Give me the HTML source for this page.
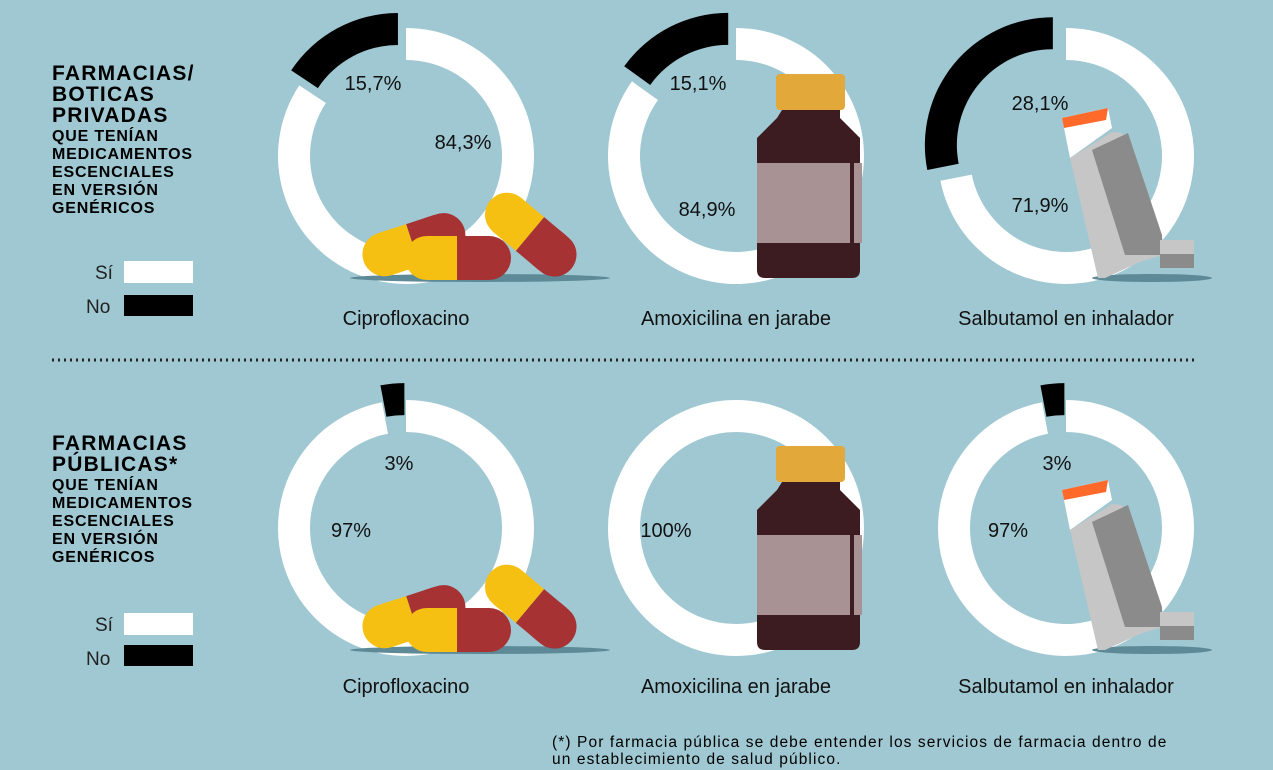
<!DOCTYPE html>
<html><head><meta charset="utf-8"><style>
body{margin:0;width:1273px;height:770px;background:#9fc8d2;overflow:hidden;font-family:"Liberation Sans",sans-serif;}
svg{position:absolute;left:0;top:0}
</style></head><body>
<svg id="chart" width="1273" height="770">
 <g font-weight="bold" fill="#000">
  <text x="52" y="80" font-size="21" letter-spacing="1.2">FARMACIAS/</text>
  <text x="52" y="101" font-size="21" letter-spacing="1.2">BOTICAS</text>
  <text x="52" y="122" font-size="21" letter-spacing="1.2">PRIVADAS</text>
  <text x="52" y="141" font-size="16" letter-spacing="0.8">QUE TENÍAN</text>
  <text x="52" y="159" font-size="16" letter-spacing="0.8">MEDICAMENTOS</text>
  <text x="52" y="177" font-size="16" letter-spacing="0.8">ESCENCIALES</text>
  <text x="52" y="195" font-size="16" letter-spacing="0.8">EN VERSIÓN</text>
  <text x="52" y="213" font-size="16" letter-spacing="0.8">GENÉRICOS</text>
 </g>
 <g font-weight="bold" fill="#000">
  <text x="52" y="450" font-size="21" letter-spacing="1.2">FARMACIAS</text>
  <text x="52" y="471" font-size="21" letter-spacing="1.2">PÚBLICAS*</text>
  <text x="52" y="490" font-size="16" letter-spacing="0.8">QUE TENÍAN</text>
  <text x="52" y="508" font-size="16" letter-spacing="0.8">MEDICAMENTOS</text>
  <text x="52" y="526" font-size="16" letter-spacing="0.8">ESCENCIALES</text>
  <text x="52" y="544" font-size="16" letter-spacing="0.8">EN VERSIÓN</text>
  <text x="52" y="562" font-size="16" letter-spacing="0.8">GENÉRICOS</text>
 </g>
 <g font-size="19" fill="#222">
  <text x="95" y="279">Sí</text><rect x="124" y="261" width="69" height="22" fill="#fff"/>
  <text x="86" y="313">No</text><rect x="124" y="295" width="69" height="21" fill="#000"/>
 </g>
 <g font-size="19" fill="#222">
  <text x="95" y="631">Sí</text><rect x="124" y="613" width="69" height="22" fill="#fff"/>
  <text x="86" y="665">No</text><rect x="124" y="645" width="69" height="21" fill="#000"/>
 </g>
 <line x1="52" y1="360" x2="1197" y2="360" stroke="#222" stroke-width="3" stroke-dasharray="2 4"/>
 <g id="donuts"></g>
 <g id="illus"></g>
 <g font-size="15.5" fill="#000" letter-spacing="1.1">
  <text x="552" y="747">(*) Por farmacia pública se debe entender los servicios de farmacia dentro de</text>
  <text x="552" y="764">un establecimiento de salud público.</text>
 </g>
</svg>
<script>
const categories = ["Ciprofloxacino","Amoxicilina en jarabe","Salbutamol en inhalador"];
const privateNo = [15.7, 15.1, 28.1];
const publicNo = [3, 0, 3];
const privateNoLabels = ["15,7%","15,1%","28,1%"];
const privateYesLabels = ["84,3%","84,9%","71,9%"];
const publicNoLabels = ["3%","","3%"];
const publicYesLabels = ["97%","100%","97%"];

const NS="http://www.w3.org/2000/svg";
const cxs=[406,736,1066], cys=[156,528], R=128, r=96, off=17;
const noPos=[[[373,90],[698,90],[1040,110]],[[399,470],[0,0],[1057,470]]];
const yesPos=[[[463,149],[707,216],[1040,212]],[[351,537],[666,537],[1008,537]]];
function el(t,a,p){const e=document.createElementNS(NS,t);for(const k in a)e.setAttribute(k,a[k]);p.appendChild(e);return e;}
function pt(cx,cy,rad,deg){const a=deg*Math.PI/180;return [cx+rad*Math.sin(a),cy-rad*Math.cos(a)];}
function arc(cx,cy,a0,a1){
 const L=(a1-a0)>180?1:0;const p1=pt(cx,cy,R,a0),p2=pt(cx,cy,R,a1),p3=pt(cx,cy,r,a1),p4=pt(cx,cy,r,a0);
 return `M${p1}A${R} ${R} 0 ${L} 1 ${p2}L${p3}A${r} ${r} 0 ${L} 0 ${p4}Z`;
}
const g=document.getElementById('donuts');
[privateNo,publicNo].forEach((vals,row)=>{
 const yl=row?publicYesLabels:privateYesLabels, nl=row?publicNoLabels:privateNoLabels;
 vals.forEach((v,i)=>{
  const cx=cxs[i],cy=cys[row];
  const noDeg=v*3.6;
  let w;
  if(noDeg<=0.01){w=el('circle',{cx:cx,cy:cy,r:(R+r)/2,fill:'none',stroke:'#fff','stroke-width':R-r},g);}
  else{w=el('path',{d:arc(cx,cy,0,360-noDeg),fill:'#fff'},g);}
  
  
  if(v>0){
   const mid=360-noDeg/2;const [dx,dy]=pt(0,0,off,mid);
   const b=el('path',{d:arc(cx+dx,cy+dy,360-noDeg,359.99),fill:'#000'},g);
   
   
  }
  const ty=el('text',{x:yesPos[row][i][0],y:yesPos[row][i][1],'font-size':20,'text-anchor':'middle',fill:'#111'},g);ty.textContent=yl[i];
  
  
  if(nl[i]){const tn=el('text',{x:noPos[row][i][0],y:noPos[row][i][1],'font-size':20,'text-anchor':'middle',fill:'#111'},g);tn.textContent=nl[i];
   
   }
  const c=el('text',{x:cx,y:row?693:325,'font-size':20,'text-anchor':'middle',fill:'#111'},g);c.textContent=categories[i];
  
  
 });
});
const ill=document.getElementById('illus');
function capsule(p,x,y,rot){
 const gg=el('g',{transform:`translate(${x},${y}) rotate(${rot})`},p);
 el('rect',{x:-52,y:-22,width:52,height:44,rx:22,fill:'#f6c012'},gg);
 el('rect',{x:-30,y:-22,width:30,height:44,fill:'#f6c012'},gg);
 el('rect',{x:0,y:-22,width:54,height:44,rx:22,fill:'#a63233'},gg);
 el('rect',{x:0,y:-22,width:30,height:44,fill:'#a63233'},gg);
}
[0,372].forEach((dy)=>{
 const pg=el('g',{},ill);
 el('ellipse',{cx:480,cy:278+dy,rx:130,ry:4,fill:'#5d8a96'},pg);
 capsule(pg,413,245+dy,-18);capsule(pg,530,234+dy,40);capsule(pg,457,258+dy,0);
 const bg=el('g',{},ill);
 el('rect',{x:776,y:74+dy,width:69,height:36,rx:4,fill:'#e3a83a'},bg);
 el('path',{d:`M782 110h58v8l20 20v132q0 8-8 8h-87q-8 0-8-8V138l20-20z`,transform:`translate(0,${dy})`,fill:'#3d1c21'},bg);
 el('rect',{x:757,y:163+dy,width:105,height:80,fill:'#a89293'},bg);
 el('rect',{x:850,y:163+dy,width:4,height:80,fill:'#3d1c21'},bg);
 const ig=el('g',{},ill);
 el('ellipse',{cx:1152,cy:278+dy,rx:60,ry:4,fill:'#5d8a96'},ig);
 el('polygon',{points:`1062,118 1108,108 1112,128 1070,158`,transform:`translate(0,${dy})`,fill:'#fff'},ig);
 el('polygon',{points:`1062,118 1108,108 1106,120 1064,128`,transform:`translate(0,${dy})`,fill:'#ff6a2b'},ig);
 el('polygon',{points:`1070,158 1112,132 1122,133 1158,234 1162,255 1140,262 1105,278 1098,278`,transform:`translate(0,${dy})`,fill:'#c6c6c6'},ig);
 el('polygon',{points:`1092,150 1128,133 1162,235 1163,255 1125,255`,transform:`translate(0,${dy})`,fill:'#8b8b8b'},ig);
 el('rect',{x:1160,y:240+dy,width:34,height:28,fill:'#c6c6c6'},ig);
 el('rect',{x:1160,y:254+dy,width:34,height:14,fill:'#8b8b8b'},ig);
});
</script>
</body></html>
